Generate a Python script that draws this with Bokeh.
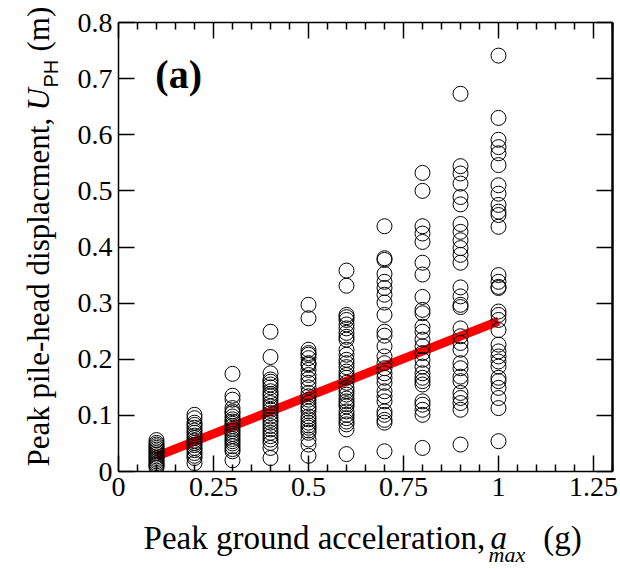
import math
from bokeh.plotting import figure
from bokeh.models import LinearAxis, FixedTicker, Label, Range1d
from bokeh.layouts import row, column
from bokeh.embed import file_html
from bokeh.resources import INLINE

# ---------------- data ----------------
pga_levels = [0.1, 0.2, 0.3, 0.4, 0.5, 0.6, 0.7, 0.8, 0.9, 1.0]

u_pga_01 = [0.056, 0.051, 0.048, 0.045, 0.042, 0.039, 0.036, 0.033, 0.030, 0.027,
            0.024, 0.021, 0.018, 0.015, 0.012, 0.010, 0.007]
u_pga_02 = [0.101, 0.095, 0.087, 0.083, 0.078, 0.073, 0.069, 0.064, 0.060, 0.055,
            0.051, 0.047, 0.042, 0.038, 0.033, 0.028, 0.024, 0.015]
u_pga_03 = [0.174, 0.135, 0.128, 0.113, 0.107, 0.104, 0.098, 0.093, 0.089, 0.085,
            0.081, 0.076, 0.072, 0.067, 0.063, 0.058, 0.054, 0.050, 0.045, 0.040,
            0.036, 0.020]
u_pga_04 = [0.249, 0.204, 0.175, 0.164, 0.160, 0.155, 0.150, 0.143, 0.138, 0.134,
            0.128, 0.122, 0.116, 0.110, 0.104, 0.098, 0.092, 0.087, 0.081, 0.075,
            0.069, 0.063, 0.057, 0.051, 0.042, 0.024]
u_pga_05 = [0.297, 0.273, 0.217, 0.211, 0.208, 0.202, 0.193, 0.190, 0.181, 0.172,
            0.165, 0.158, 0.150, 0.140, 0.134, 0.128, 0.122, 0.116, 0.112, 0.107,
            0.098, 0.093, 0.087, 0.082, 0.078, 0.073, 0.069, 0.057, 0.048, 0.028]
u_pga_06 = [0.358, 0.331, 0.279, 0.275, 0.270, 0.262, 0.255, 0.247, 0.240, 0.235,
            0.217, 0.208, 0.199, 0.193, 0.186, 0.178, 0.172, 0.167, 0.158, 0.149,
            0.143, 0.137, 0.130, 0.125, 0.120, 0.116, 0.107, 0.101, 0.095, 0.089,
            0.084, 0.075, 0.031]
u_pga_07 = [0.437, 0.380, 0.377, 0.352, 0.338, 0.327, 0.315, 0.301, 0.279, 0.249,
            0.242, 0.223, 0.205, 0.193, 0.184, 0.175, 0.167, 0.158, 0.143, 0.134,
            0.125, 0.107, 0.101, 0.092, 0.087, 0.036]
u_pga_08 = [0.532, 0.500, 0.437, 0.424, 0.409, 0.372, 0.351, 0.311, 0.288, 0.282,
            0.258, 0.249, 0.235, 0.223, 0.211, 0.199, 0.187, 0.175, 0.167, 0.161,
            0.155, 0.125, 0.119, 0.110, 0.101, 0.042]
u_pga_09 = [0.673, 0.544, 0.531, 0.513, 0.489, 0.476, 0.441, 0.427, 0.412, 0.398,
            0.386, 0.372, 0.328, 0.312, 0.297, 0.293, 0.255, 0.241, 0.229, 0.217,
            0.193, 0.184, 0.169, 0.161, 0.140, 0.131, 0.122, 0.110, 0.048]
u_pga_10 = [0.741, 0.630, 0.591, 0.578, 0.567, 0.546, 0.510, 0.495, 0.475, 0.463,
            0.457, 0.436, 0.350, 0.338, 0.329, 0.327, 0.285, 0.279, 0.270, 0.252,
            0.226, 0.214, 0.205, 0.196, 0.187, 0.167, 0.161, 0.149, 0.131, 0.113,
            0.054]

u_columns = [u_pga_01, u_pga_02, u_pga_03, u_pga_04, u_pga_05,
             u_pga_06, u_pga_07, u_pga_08, u_pga_09, u_pga_10]

fit_pga = [0.1, 1.0]
fit_u = [0.027, 0.268]

x_ticks = [0, 0.25, 0.5, 0.75, 1, 1.25]
x_tick_labels = ["0", "0.25", "0.5", "0.75", "1", "1.25"]
x_minor_ticks = [0.05, 0.1, 0.15, 0.2, 0.3, 0.35, 0.4, 0.45, 0.55, 0.6, 0.65, 0.7,
                 0.8, 0.85, 0.9, 0.95, 1.05, 1.1, 1.15, 1.2, 1.3]
y_ticks = [0, 0.1, 0.2, 0.3, 0.4, 0.5, 0.6, 0.7, 0.8]
y_tick_labels = ["0", "0.1", "0.2", "0.3", "0.4", "0.5", "0.6", "0.7", "0.8"]

x_title = "Peak ground acceleration,"
x_title_var = "a"
x_title_sub = "max"
x_title_unit = "(g)"
y_title = "Peak pile-head displacment,"
y_title_var = "U"
y_title_sub = "PH"
y_title_unit = "(m)"
panel_tag = "(a)"

SERIF = "Liberation Serif"
SANS = "Liberation Sans"

# ---------------- main figure ----------------
p = figure(frame_width=494, frame_height=449,
           x_range=Range1d(0, 1.3), y_range=Range1d(0, 0.8),
           output_backend="svg", toolbar_location=None,
           min_border_left=52, min_border_top=22, min_border_right=8,
           min_border_bottom=40,
           background_fill_color="white", border_fill_color="white")
p.grid.visible = False
p.outline_line_color = None


def style_axis(ax, show_labels=True, minor=True):
    ax.axis_line_color = "black"
    ax.axis_line_width = 1.5
    ax.major_tick_in = 16
    ax.major_tick_out = 0
    ax.major_tick_line_color = "black"
    ax.major_tick_line_width = 1.5
    ax.minor_tick_in = 7 if minor else 0
    ax.minor_tick_out = 0
    ax.minor_tick_line_color = "black" if minor else None
    ax.minor_tick_line_width = 1.5
    if show_labels:
        ax.major_label_text_font = SERIF
        ax.major_label_text_font_size = "28px"
        ax.major_label_text_color = "black"
        ax.major_label_standoff = 6
    else:
        ax.major_label_text_font_size = "1px"
        ax.major_label_standoff = 0


xb = p.xaxis[0]
xb.ticker = FixedTicker(ticks=x_ticks, minor_ticks=x_minor_ticks)
xb.major_label_overrides = dict(zip(x_ticks, x_tick_labels))
style_axis(xb)

yl = p.yaxis[0]
yl.ticker = FixedTicker(ticks=y_ticks, minor_ticks=[])
yl.major_label_overrides = dict(zip(y_ticks, y_tick_labels))
style_axis(yl, minor=False)

xt = LinearAxis(ticker=FixedTicker(ticks=x_ticks, minor_ticks=x_minor_ticks))
style_axis(xt, show_labels=False)
xt.major_label_overrides = {t: "" for t in x_ticks}
p.add_layout(xt, "above")

yr = LinearAxis(ticker=FixedTicker(ticks=y_ticks, minor_ticks=[]))
style_axis(yr, show_labels=False, minor=False)
yr.major_label_overrides = {t: "" for t in y_ticks}
yr.axis_line_width = 2.5
p.add_layout(yr, "right")

xs, ys = [], []
for lvl, col in zip(pga_levels, u_columns):
    xs.extend([lvl] * len(col))
    ys.extend(col)

p.line(fit_pga, fit_u, line_color="#ff0000", line_width=9, line_cap="butt")
p.scatter(xs, ys, marker="circle", size=15, fill_color=None,
          line_color="black", line_width=1)

p.add_layout(Label(x=0.097, y=0.708, text=panel_tag, text_font=SERIF,
                   text_font_size="40px", text_font_style="bold",
                   text_color="black", text_baseline="alphabetic"))


# ---------------- title strips ----------------
def strip(w, h, x_range=None):
    f = figure(width=w, height=h, title=None,
               x_range=x_range if x_range is not None else Range1d(0, w),
               y_range=Range1d(0, h),
               output_backend="svg", toolbar_location=None,
               x_axis_type=None, y_axis_type=None, min_border=0,
               background_fill_color="white", border_fill_color="white")
    f.outline_line_color = None
    return f


def lab(f, x, y, text, size, font=SERIF, style="normal", angle=0.0):
    f.add_layout(Label(x=x, y=y, text=text, text_font=font,
                       text_font_size=size, text_font_style=style,
                       text_color="black", angle=angle, angle_units="rad",
                       text_align="left", text_baseline="alphabetic"))


# x title strip: shares the main x scale, pixel rows vertically
xs_strip = strip(554, 58, x_range=p.x_range)
lab(xs_strip, 0.066, 32, x_title, "33px")
lab(xs_strip, 0.979, 32, x_title_var, "33px", style="italic")
lab(xs_strip, 0.974, 15, x_title_sub, "22px", style="italic")
lab(xs_strip, 1.118, 32, x_title_unit, "33px")

# y title strip (rotated text), pixel coordinates
ys_strip = strip(66, 569)
rot = math.pi / 2
lab(ys_strip, 38, 103, y_title, "31px", angle=rot)
lab(ys_strip, 38, 459, y_title_var, "31px", style="italic", angle=rot)
lab(ys_strip, 50, 482, y_title_sub, "20px", font=SANS, angle=rot)
lab(ys_strip, 38, 518, y_title_unit, "31px", angle=rot)

layout = row(ys_strip, column(p, xs_strip))

open("out.html", "w").write(file_html(layout, INLINE))
